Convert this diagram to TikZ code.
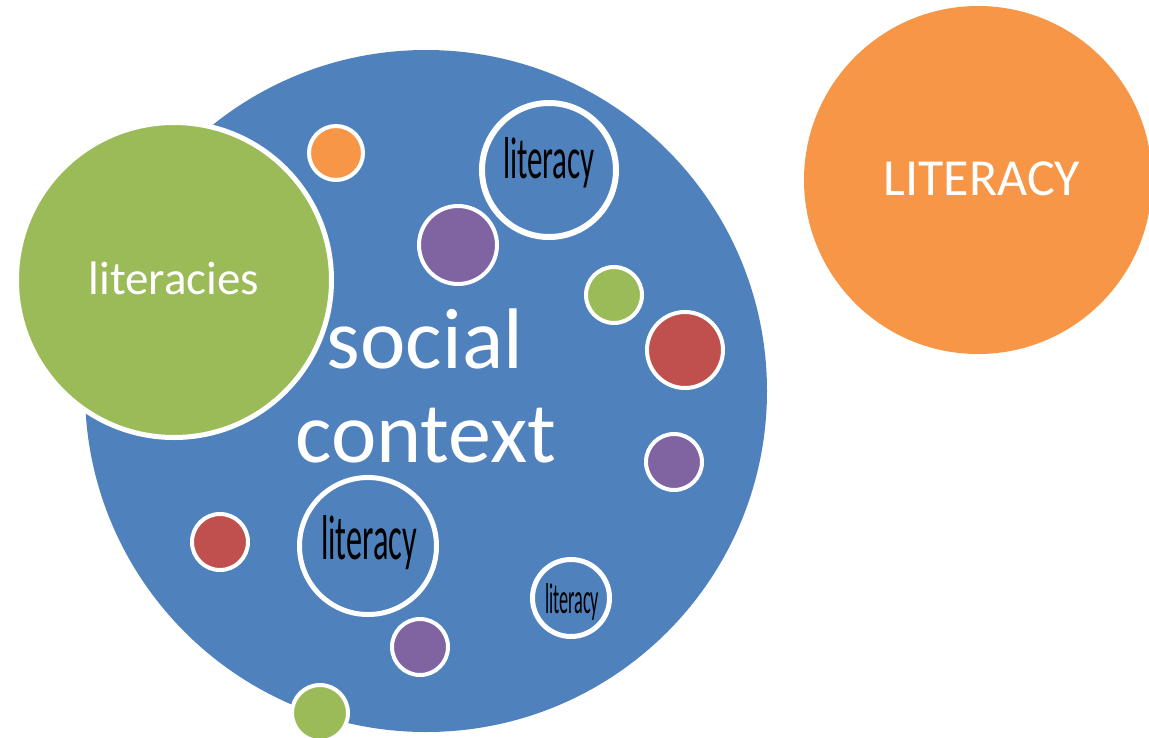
\documentclass[tikz,border=0pt]{standalone}
\usepackage{fontspec}
\usepackage{graphicx}
\setmainfont{Carlito}
\definecolor{cblue}{HTML}{4F81BD}
\definecolor{corange}{HTML}{F79646}
\definecolor{cgreen}{HTML}{9BBB59}
\definecolor{cpurple}{HTML}{8064A2}
\definecolor{cred}{HTML}{C0504D}
\tikzset{
  disc/.style={circle, inner sep=0pt, minimum size=#1},
  dot/.style={circle, draw=white, line width=4pt, inner sep=0pt, minimum size=#1},
  ring/.style={circle, draw=white, line width=5pt, fill=cblue, inner sep=0pt, minimum size=#1},
  whitetext/.style={text=white, inner sep=0pt},
  blacktext/.style={text=black, inner sep=0pt, anchor=base}
}
\begin{document}
\begin{tikzpicture}[x=1pt,y=-1pt]
\useasboundingbox (0,0) rectangle (1149,737);
\begin{scope}
\clip (0,0) rectangle (1149,737);
% big circles
\node[disc=682, fill=cblue] (blue) at (426,391) {};
\node[disc=348, fill=corange] (orange) at (978,180) {};
\node[whitetext, font=\fontsize{52}{60}\selectfont] (lit) at (982,179) {LITERACY};
\node[circle, draw=white, line width=5pt, fill=cgreen, inner sep=0pt, minimum size=315] (green) at (174,280) {};
\node[whitetext, font=\fontsize{47}{54}\selectfont] (lits) at (174,278) {literacies};
% small circles
\node[dot=54, fill=corange] (o1) at (336,153) {};
\node[dot=78, fill=cpurple] (p1) at (458,245) {};
\node[ring=134, line width=6pt] (l1) at (549,170) {};
\node[dot=56, fill=cgreen] (g1) at (614,295) {};
\node[dot=76, fill=cred] (r1) at (685,350) {};
\node[dot=56, fill=cpurple] (p2) at (674,462) {};
\node[dot=56, fill=cred] (r2) at (220,542) {};
\node[ring=137] (l2) at (368,546) {};
\node[ring=77] (l3) at (571,598) {};
\node[dot=56, fill=cpurple] (p3) at (420,647) {};
\node[dot=56, fill=cgreen] (g2) at (320,713) {};
% texts
\node[whitetext, anchor=base, font=\fontsize{86}{96}\selectfont] (social) at (425,368) {social};
\node[whitetext, anchor=base, font=\fontsize{86}{96}\selectfont] (context) at (426,462) {context};
\node[blacktext] (t1) at (549,178) {\resizebox{92pt}{41pt}{literacy}};
\node[blacktext] (t2) at (369,559) {\resizebox{96pt}{44pt}{literacy}};
\node[blacktext] (t3) at (572,613) {\resizebox{54pt}{30pt}{literacy}};
\end{scope}
\end{tikzpicture}
\end{document}
